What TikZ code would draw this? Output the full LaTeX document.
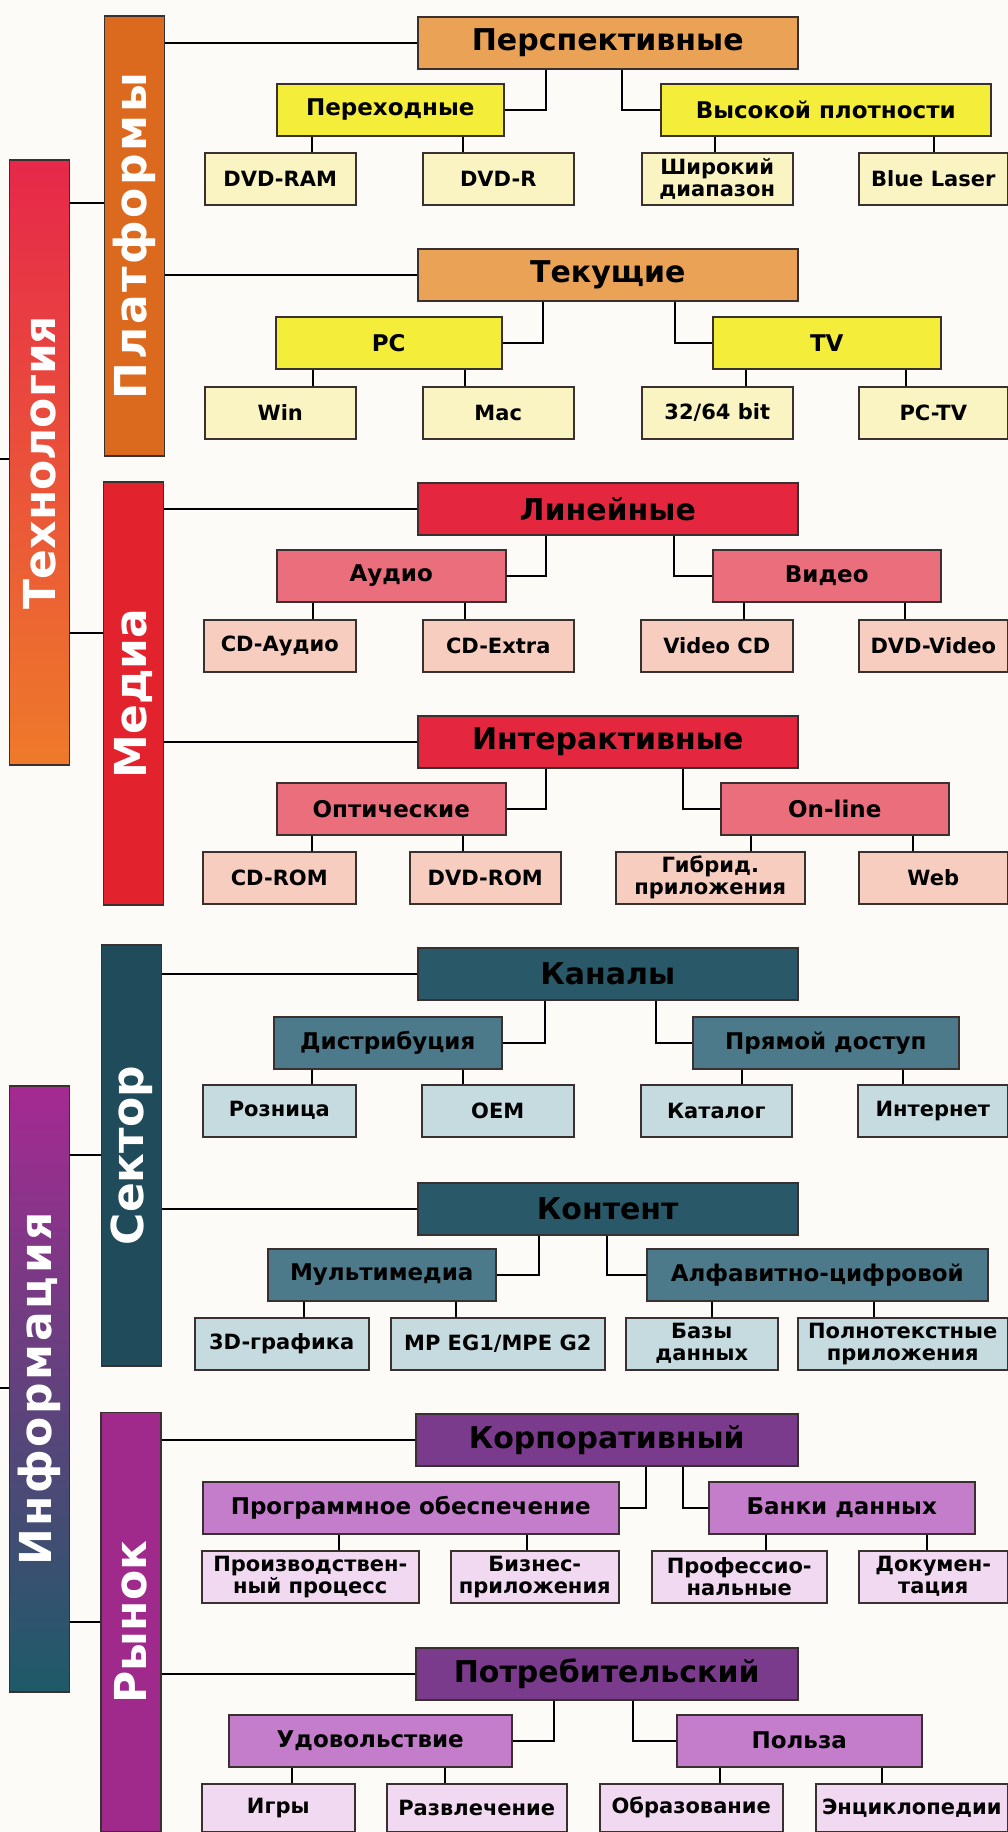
\documentclass[tikz,border=0pt]{standalone}
\usepackage{fontspec}
\setmainfont{DejaVu Sans}

\definecolor{boxline}{HTML}{3A3030}
\definecolor{paper}{HTML}{FCFBF8}
% Технология / Информация
\definecolor{techtop}{HTML}{E6284A}
\definecolor{techbot}{HTML}{EE7A2A}
\definecolor{infotop}{HTML}{A52A92}
\definecolor{infomid}{HTML}{5E3C84}
\definecolor{infobot}{HTML}{1E5A68}
% Платформы
\definecolor{platbar}{HTML}{DC6A1E}
\definecolor{plattop}{HTML}{E9A256}
\definecolor{platmid}{HTML}{F4EE3A}
\definecolor{platleaf}{HTML}{FAF3C2}
% Медиа
\definecolor{mediabar}{HTML}{E2232E}
\definecolor{mediatop}{HTML}{E4273E}
\definecolor{mediamid}{HTML}{EB6E7C}
\definecolor{medialeaf}{HTML}{F6CDBF}
% Сектор
\definecolor{sectbar}{HTML}{1F4B5A}
\definecolor{secttop}{HTML}{295868}
\definecolor{sectmid}{HTML}{4D7A8A}
\definecolor{sectleaf}{HTML}{C5DBDF}
% Рынок
\definecolor{markbar}{HTML}{A02A8C}
\definecolor{marktop}{HTML}{7B3B8D}
\definecolor{markmid}{HTML}{C47DCB}
\definecolor{markleaf}{HTML}{F1D9F1}

\tikzset{
  box/.style={draw=boxline, line width=1.5pt, inner sep=0pt, anchor=north west,
    minimum height=52pt, align=center},
  topbox/.style={box, fill=#1, minimum width=380pt,
    font=\bfseries\fontsize{30}{30}\selectfont},
  midbox/.style={box, fill=#1, font=\bfseries\fontsize{23}{23}\selectfont},
  leafbox/.style={box, fill=#1, minimum width=151pt,
    font=\bfseries\fontsize{21}{22}\selectfont},
  bar/.style={draw=boxline, line width=1.5pt, rotate=90, inner sep=0pt,
    minimum height=60pt, text=white, font=\bfseries\fontsize{44}{44}\selectfont},
  link/.style={line width=2pt, black}
}

\begin{document}
\begin{tikzpicture}[x=1pt,y=-1pt]
\useasboundingbox (0,0) rectangle (1008,1832);
\fill[paper] (0,0) rectangle (1008,1832);

% bars
\node[bar, minimum width=605pt, top color=techtop, bottom color=techbot] (tech) at (39.5,462.5) {Технология};
\node[bar, minimum width=606pt, top color=infotop, middle color=infomid, bottom color=infobot] (info) at (39.5,1389) {\addfontfeature{LetterSpace=6}Информация};
\node[bar, minimum width=440pt, fill=platbar] (plat) at (134.5,236) {\addfontfeature{LetterSpace=6}Платформы};
\node[bar, minimum width=423pt, fill=mediabar] (media) at (133.5,693.5) {Медиа};
\node[bar, minimum width=421pt, fill=sectbar] (sect) at (131.5,1155.5) {Сектор};
\node[bar, minimum width=419pt, fill=markbar] (mark) at (131,1622) {Рынок};

\coordinate (techin) at (0,459);
\coordinate (infoin) at (0,1388);
\draw[link] (tech.north |- techin) -- (techin);
\draw[link] (info.north |- infoin) -- (infoin);
\draw[link] (tech.south |- 0,203) -- (plat.north |- 0,203);
\draw[link] (tech.south |- 0,633) -- (media.north |- 0,633);
\draw[link] (info.south |- 0,1155) -- (sect.north |- 0,1155);
\draw[link] (info.south |- 0,1622) -- (mark.north |- 0,1622);

% Платформы
\node[topbox=plattop] (pers) at (417,16) {Перспективные};
\node[midbox=platmid, minimum width=227pt] (trans) at (276,83) {Переходные};
\node[midbox=platmid, minimum width=330pt] (dens) at (660,83) {Высокой плотности};
\node[leafbox=platleaf] (dvdram) at (204,152) {DVD-RAM};
\node[leafbox=platleaf] (dvdr) at (422,152) {DVD-R};
\node[leafbox=platleaf] (wide) at (641,152) {Широкий\\диапазон};
\node[leafbox=platleaf, minimum width=149pt] (blue) at (858,152) {Blue Laser};
\node[topbox=plattop] (cur) at (417,248) {Текущие};
\node[midbox=platmid, minimum width=226pt] (pc) at (275,316) {PC};
\node[midbox=platmid, minimum width=228pt] (tv) at (712,316) {TV};
\node[leafbox=platleaf] (win) at (204,386) {Win};
\node[leafbox=platleaf] (mac) at (422,386) {Mac};
\node[leafbox=platleaf] (bits) at (641,386) {32/64 bit};
\node[leafbox=platleaf, minimum width=149pt] (pctv) at (858,386) {PC-TV};

% Медиа
\node[topbox=mediatop] (lin) at (417,482) {Линейные};
\node[midbox=mediamid, minimum width=229pt] (audio) at (276,549) {Аудио};
\node[midbox=mediamid, minimum width=228pt] (video) at (712,549) {Видео};
\node[leafbox=medialeaf, minimum width=152pt] (cdaudio) at (203,619) {CD-Аудио};
\node[leafbox=medialeaf] (cdextra) at (422,619) {CD-Extra};
\node[leafbox=medialeaf, minimum width=152pt] (vcd) at (640,619) {Video CD};
\node[leafbox=medialeaf, minimum width=149pt] (dvdvideo) at (858,619) {DVD-Video};
\node[topbox=mediatop] (inter) at (417,715) {Интерактивные};
\node[midbox=mediamid, minimum width=229pt] (optic) at (276,782) {Оптические};
\node[midbox=mediamid, minimum width=228pt] (online) at (720,782) {On-line};
\node[leafbox=medialeaf, minimum width=153pt] (cdrom) at (202,851) {CD-ROM};
\node[leafbox=medialeaf] (dvdrom) at (409,851) {DVD-ROM};
\node[leafbox=medialeaf, minimum width=189pt] (hybrid) at (615,851) {Гибрид.\\приложения};
\node[leafbox=medialeaf, minimum width=149pt] (web) at (858,851) {Web};

% Сектор
\node[topbox=secttop] (chan) at (417,947) {Каналы};
\node[midbox=sectmid, minimum width=228pt] (distr) at (273,1016) {Дистрибуция};
\node[midbox=sectmid, minimum width=266pt] (direct) at (692,1016) {Прямой доступ};
\node[leafbox=sectleaf, minimum width=153pt] (retail) at (202,1084) {Розница};
\node[leafbox=sectleaf, minimum width=152pt] (oem) at (421,1084) {OEM};
\node[leafbox=sectleaf] (catalog) at (640,1084) {Каталог};
\node[leafbox=sectleaf, minimum width=150pt] (inet) at (857,1084) {Интернет};
\node[topbox=secttop] (content) at (417,1182) {Контент};
\node[midbox=sectmid, minimum width=228pt] (multi) at (267,1248) {Мультимедиа};
\node[midbox=sectmid, minimum width=341pt] (alpha) at (646,1248) {Алфавитно-цифровой};
\node[leafbox=sectleaf, minimum width=174pt] (graph) at (194,1317) {3D-графика};
\node[leafbox=sectleaf, minimum width=214pt] (mpeg) at (390,1317) {MP EG1/MPE G2};
\node[leafbox=sectleaf, minimum width=152pt] (bases) at (625,1317) {Базы\\данных};
\node[leafbox=sectleaf, minimum width=210pt] (fulltext) at (797,1317) {Полнотекстные\\приложения};

% Рынок
\node[topbox=marktop, minimum width=382pt] (corp) at (415,1413) {Корпоративный};
\node[midbox=markmid, minimum width=416pt] (soft) at (202,1481) {Программное обеспечение};
\node[midbox=markmid, minimum width=266pt] (banks) at (708,1481) {Банки данных};
\node[leafbox=markleaf, minimum width=217pt] (prod) at (201,1550) {Производствен-\\ный процесс};
\node[leafbox=markleaf, minimum width=168pt] (biz) at (450,1550) {Бизнес-\\приложения};
\node[leafbox=markleaf, minimum width=175pt] (prof) at (651,1550) {Профессио-\\нальные};
\node[leafbox=markleaf, minimum width=149pt] (docs) at (858,1550) {Докумен-\\тация};
\node[topbox=marktop, minimum width=382pt] (cons) at (415,1647) {Потребительский};
\node[midbox=markmid, minimum width=283pt] (fun) at (228,1714) {Удовольствие};
\node[midbox=markmid, minimum width=245pt] (use) at (676,1714) {Польза};
\node[leafbox=markleaf, minimum width=153pt, minimum height=48pt] (games) at (201,1783) {Игры};
\node[leafbox=markleaf, minimum width=180pt, minimum height=48pt] (ent) at (386,1783) {Развлечение};
\node[leafbox=markleaf, minimum width=183pt, minimum height=48pt] (edu) at (599,1783) {Образование};
\node[leafbox=markleaf, minimum width=192pt, minimum height=48pt] (enc) at (815,1783) {Энциклопедии};

% bar to top boxes
\foreach \b/\t in {plat/pers, plat/cur, media/lin, media/inter, sect/chan, sect/content, mark/corp, mark/cons}
  \draw[link] (\b.south |- \t.west) -- (\t.west);

% top boxes to middle boxes
\foreach \t/\m/\x in {pers/trans/546, cur/pc/543, lin/audio/546, inter/optic/546, chan/distr/545, content/multi/539, corp/soft/646, cons/fun/554}
  \draw[link] (\t.south -| \x,0) |- (\m.east);
\foreach \t/\m/\x in {pers/dens/622, cur/tv/675, lin/video/674, inter/online/683, chan/direct/656, content/alpha/607, corp/banks/683, cons/use/633}
  \draw[link] (\t.south -| \x,0) |- (\m.west);

% middle boxes to leaves
\foreach \m/\l/\x in {trans/dvdram/312, trans/dvdr/463, dens/wide/715, dens/blue/934,
  pc/win/313, pc/mac/465, tv/bits/746, tv/pctv/906,
  audio/cdaudio/313, audio/cdextra/465, video/vcd/744, video/dvdvideo/905,
  optic/cdrom/312, optic/dvdrom/463, online/hybrid/751, online/web/913,
  distr/retail/312, distr/oem/463, direct/catalog/742, direct/inet/903,
  multi/graph/304, multi/mpeg/456, alpha/bases/712, alpha/fulltext/874,
  soft/prod/339, soft/biz/527, banks/prof/766, banks/docs/927,
  fun/games/292, fun/ent/445, use/edu/720, use/enc/882}
  \draw[link] (\m.south -| \x,0) -- (\l.north -| \x,0);
\end{tikzpicture}
\end{document}
